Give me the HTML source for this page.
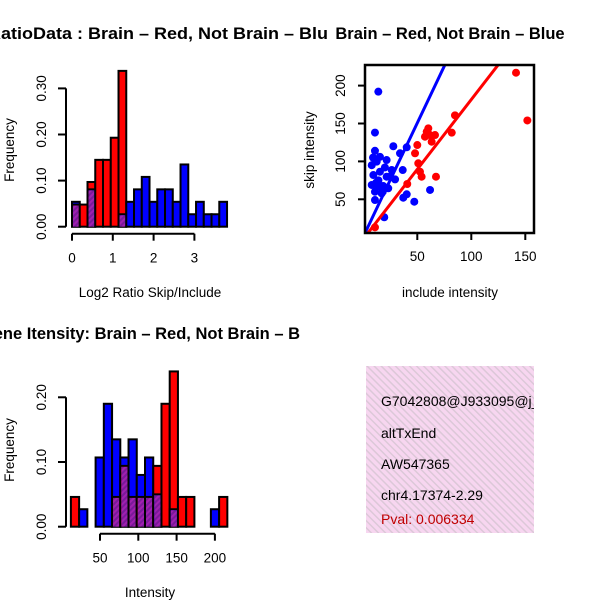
<!DOCTYPE html>
<html><head><meta charset="utf-8"><style>
body{margin:0;background:#fff}
svg{display:block;font-family:"Liberation Sans",sans-serif}
</style></head><body>
<svg id="c" width="600" height="600" viewBox="0 0 600 600">
<defs>
<pattern id="hatch" width="4" height="4" patternUnits="userSpaceOnUse" patternTransform="rotate(45)">
<rect width="4" height="4" fill="#a020b0"/><rect width="2" height="4" fill="#7a1a9a"/></pattern>
<pattern id="pink" width="5" height="5" patternUnits="userSpaceOnUse" patternTransform="rotate(-45)">
<rect width="5" height="5" fill="#f7d6f0"/><rect width="1.5" height="5" fill="#dcc8d8"/></pattern>
<clipPath id="clipS"><rect x="365" y="65" width="169" height="168"/></clipPath>
</defs>
</svg>
<script>
// ---- Ratio histogram data ----
const ratioBinStart = 0, ratioBinWidth = 0.19;
const ratioRed  = [0.048,0.048,0.097,0.145,0.145,0.193,0.338,0,0,0,0,0,0,0,0,0,0,0,0,0];
const ratioBlue = [0.054,0,0.081,0,0,0,0.027,0.054,0.081,0.108,0.054,0.081,0.081,0.054,0.135,0.027,0.054,0.027,0.027,0.054];
const ratioXTicks = [0,1,2,3];
const ratioYTicks = [0,0.1,0.2,0.3];
const ratioYLabels = ["0.00","0.10","0.20","0.30"];
// ---- Intensity histogram data ----
const intBinStart = 12, intBinWidth = 10.75;
const intRed  = [0.046,0,0,0,0,0.046,0.094,0.046,0.046,0.046,0.094,0.19,0.24,0.046,0.046,0,0,0,0.046];
const intBlue = [0,0.027,0,0.107,0.19,0.135,0.107,0.135,0.08,0.107,0.05,0,0.027,0,0,0,0,0.027,0];
const intXTicks = [50,100,150,200];
const intYTicks = [0,0.1,0.2];
const intYLabels = ["0.00","0.10","0.20"];
// ---- Scatter data ----
const blueX = [13.9,10.8,27.8,40.2,34,10.8,15.4,21.6,7.8,12.4,26.3,36.5,15.4,9.3,21.6,29.4,7.8,13.9,18.5,23.1,10.8,17,10.8,61.8,40.2,37,47.2,19.4,14,20,12,25,18,9];
const blueY = [192,138,120,118.6,110.7,114,106,101.8,95,99.7,88.6,88.6,86.4,82,79.8,76.3,68.9,66.6,67.5,64.5,60,57.9,49,62.3,56.6,52.1,46.8,26.3,75,92,72,80,60,105];
const redX = [141.4,151.9,84.9,81.9,60.2,58.7,61.8,66.4,57.1,63.3,50,47.9,50.9,52.5,54,67.3,40.7,10.8];
const redY = [217,154,160.8,137.9,143.6,139.2,134.8,134.8,132.6,126,121.6,110.7,97.5,86.4,79.8,79.8,70.2,13];
const blueFit = [0.7, 3.0];
const redFit  = [-2.4, 1.84];
const scXTicks = [50,100,150];
const scYTicks = [50,100,150,200];
const infoLines = ["G7042808@J933095@j_","altTxEnd","AW547365","chr4.17374-2.29"];
const pval = "Pval: 0.006334";

const svg = document.getElementById('c');
const NS = "http://www.w3.org/2000/svg";
const FS = 13.5;
function mk(tag, attrs, parent){const e=document.createElementNS(NS,tag);for(const k in attrs)e.setAttribute(k,attrs[k]);(parent||svg).appendChild(e);return e;}
function txt(x,y,s,attrs,parent){const e=mk('text',Object.assign({x:x,y:y},attrs),parent);e.textContent=s;return e;}

function histogram(name, opts){
  const g = mk('g',{});
  
  
  const sx = v => opts.x0 + (v - opts.vx0) * opts.kx;
  const sy = v => opts.base - v * opts.ky;
  const n = opts.red.length;
  for(let i=0;i<n;i++){
    const a = opts.start + i*opts.width, b = a + opts.width;
    const xa = sx(a), xb = sx(b);
    const r = opts.red[i], bl = opts.blue[i];
    const draw=(v,fill,nm)=>{ if(v<=0) return;
      const rc = mk('rect',{x:xa,y:sy(v),width:xb-xa,height:v*opts.ky,fill:fill,stroke:'#000','stroke-width':2},g);
      
      
    };
    if(r>=bl){ draw(r,'#ff0000','red-bar'); draw(bl,'#0000ff','blue-bar'); }
    else { draw(bl,'#0000ff','blue-bar'); draw(r,'#ff0000','red-bar'); }
    const m = Math.min(r,bl);
    if(m>0){ const o=mk('rect',{x:xa+1,y:sy(m)+1,width:xb-xa-2,height:m*opts.ky-1,fill:'url(#hatch)'},g);
      
       }
  }
  const ya = mk('g',{});
  
  
  const yt = opts.yTicks;
  mk('line',{x1:66,x2:66,y1:sy(yt[yt.length-1]),y2:sy(yt[0]),stroke:'#000','stroke-width':2},ya);
  yt.forEach((t,i)=>{const y=sy(t);mk('line',{x1:58,x2:66,y1:y,y2:y,stroke:'#000','stroke-width':2},ya);
    txt(46,y,opts.yLabels[i],{'font-size':FS,'text-anchor':'middle',transform:`rotate(-90 46 ${y})`},ya);});
  const xa = mk('g',{});
  
  
  const xt = opts.xTicks, ay = opts.base + 7;
  mk('line',{x1:sx(xt[0]),x2:sx(xt[xt.length-1]),y1:ay,y2:ay,stroke:'#000','stroke-width':2},xa);
  xt.forEach(t=>{const x=sx(t);mk('line',{x1:x,x2:x,y1:ay,y2:ay+7,stroke:'#000','stroke-width':2},xa);
    txt(x,ay+29,String(t),{'font-size':FS,'text-anchor':'middle'},xa);});
}

histogram('ratio-histogram',{x0:72,vx0:0,kx:40.8,base:226.7,ky:461,start:ratioBinStart,width:ratioBinWidth,red:ratioRed,blue:ratioBlue,xTicks:ratioXTicks,yTicks:ratioYTicks,yLabels:ratioYLabels});
histogram('intensity-histogram',{x0:100,vx0:50,kx:0.766,base:526.7,ky:647,start:intBinStart,width:intBinWidth,red:intRed,blue:intBlue,xTicks:intXTicks,yTicks:intYTicks,yLabels:intYLabels});

let t;
t=txt(-12,39,"RatioData : Brain – Red, Not Brain – Blu",{'font-size':16.5,'font-weight':'bold',textLength:340,lengthAdjust:'spacingAndGlyphs'});


t=txt(450,39,"Brain – Red, Not Brain – Blue",{'font-size':16.5,'font-weight':'bold','text-anchor':'middle'});


t=txt(300,339,"Gene Itensity: Brain – Red, Not Brain – B",{'font-size':16.5,'font-weight':'bold','text-anchor':'end'});


t=txt(150,297,"Log2 Ratio Skip/Include",{'font-size':FS,'text-anchor':'middle'});


t=txt(14,150,"Frequency",{'font-size':FS,'text-anchor':'middle',transform:'rotate(-90 14 150)'});


t=txt(150,597,"Intensity",{'font-size':FS,'text-anchor':'middle'});


t=txt(14,450,"Frequency",{'font-size':FS,'text-anchor':'middle',transform:'rotate(-90 14 450)'});


t=txt(450,297,"include intensity",{'font-size':FS,'text-anchor':'middle'});


t=txt(314,150,"skip intensity",{'font-size':FS,'text-anchor':'middle',transform:'rotate(-90 314 150)'});



const L=365,R=534,T=65,B=233;
const sx = v => 363.3 + v*1.08;
const sy = v => 237.2 - v*0.758;
const sc = mk('g',{});


const inner = mk('g',{'clip-path':'url(#clipS)'},sc);
blueX.forEach((x,i)=>{const c=mk('circle',{cx:sx(x),cy:sy(blueY[i]),r:4,fill:'#0000ff'},inner);
  
  });
redX.forEach((x,i)=>{const c=mk('circle',{cx:sx(x),cy:sy(redY[i]),r:4,fill:'#ff0000'},inner);
  
  });
[[blueFit,'#0000ff','blue-fit-line'],[redFit,'#ff0000','red-fit-line']].forEach(([f,col,nm])=>{
  const l=mk('line',{x1:sx(0),y1:sy(f[0]),x2:sx(200),y2:sy(f[0]+f[1]*200),stroke:col,'stroke-width':3},inner);
  
  });
const box=mk('rect',{x:L,y:T,width:R-L,height:B-T,fill:'none',stroke:'#000','stroke-width':2.5},sc);


scXTicks.forEach(v=>{const x=sx(v);mk('line',{x1:x,x2:x,y1:B,y2:B+7,stroke:'#000','stroke-width':2},sc);
  txt(x,B+28,String(v),{'font-size':FS,'text-anchor':'middle'},sc);});
scYTicks.forEach(v=>{const y=sy(v);mk('line',{x1:L-7,x2:L,y1:y,y2:y,stroke:'#000','stroke-width':2},sc);
  txt(345,y,String(v),{'font-size':FS,'text-anchor':'middle',transform:`rotate(-90 345 ${y})`},sc);});

const ib = mk('g',{});


mk('clipPath',{id:'clipB'}).appendChild(document.createElementNS(NS,'rect'));
const cb=document.querySelector('#clipB rect');
cb.setAttribute('x',366);cb.setAttribute('y',366);cb.setAttribute('width',168);cb.setAttribute('height',167);
mk('rect',{x:366,y:366,width:168,height:167,fill:'url(#pink)'},ib);
const ibt = mk('g',{'clip-path':'url(#clipB)'},ib);
const ys=[406,438,469,500];
infoLines.forEach((s,i)=>{const e=txt(381,ys[i],s,{'font-size':14,fill:'#000'},ibt);
  
  });
const pv=txt(381,524,pval,{'font-size':14,fill:'#c00000'},ibt);


</script>
</body></html>
